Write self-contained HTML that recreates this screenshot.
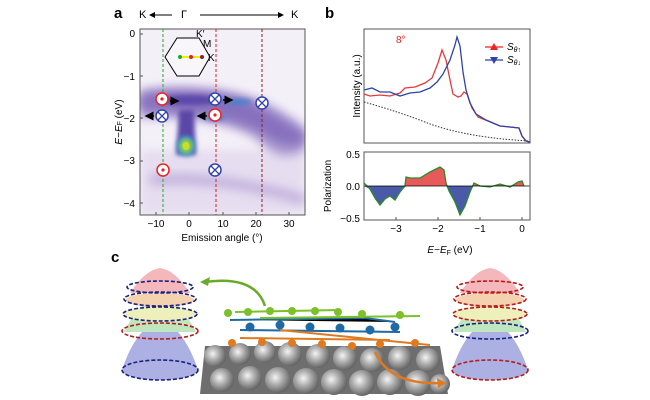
<!DOCTYPE html>
<html><head><style>
body{margin:0;background:#fff;}
svg{display:block;font-family:"Liberation Sans",sans-serif;}
</style></head><body>
<svg width="650" height="400" viewBox="0 0 650 400" xmlns="http://www.w3.org/2000/svg">
<defs>
<filter id="b4" x="-50%" y="-50%" width="200%" height="200%"><feGaussianBlur stdDeviation="5"/></filter>
<filter id="b2" x="-50%" y="-50%" width="200%" height="200%"><feGaussianBlur stdDeviation="2.5"/></filter>
<radialGradient id="ball" cx="0.4" cy="0.4" r="0.6"><stop offset="0" stop-color="#f4f4f4"/><stop offset="0.5" stop-color="#aaa"/><stop offset="1" stop-color="#666"/></radialGradient>
<clipPath id="pa"><rect x="140" y="29" width="165" height="186"/></clipPath>
<clipPath id="up"><rect x="364" y="150" width="166" height="36"/></clipPath>
<clipPath id="dn"><rect x="364" y="186" width="166" height="36"/></clipPath>
<marker id="ah" markerWidth="6" markerHeight="6" refX="5" refY="3" orient="auto"><path d="M0,0L6,3L0,6z" fill="#000"/></marker>
</defs>
<text x="114" y="18" font-size="15" font-weight="bold">a</text>
<text x="325" y="18" font-size="15" font-weight="bold">b</text>
<text x="111" y="262" font-size="15" font-weight="bold">c</text>

<text x="139" y="18" font-size="11">K</text>
<line x1="172" y1="15" x2="150" y2="15" stroke="#000" marker-end="url(#ah)"/>
<text x="181" y="18" font-size="11">Γ</text>
<line x1="200" y1="15" x2="283" y2="15" stroke="#000" marker-end="url(#ah)"/>
<text x="291" y="18" font-size="11">K</text>

<g clip-path="url(#pa)">
<rect x="140" y="29" width="165" height="186" fill="#f4f0f8"/>
<rect x="140" y="150" width="165" height="65" fill="#e6ddf0" filter="url(#b4)"/>
<path d="M140,90 Q200,80 260,100 Q290,115 305,128 L305,150 Q280,165 258,140 Q220,115 140,118 Z" fill="#a796cf" filter="url(#b4)"/>
<path d="M140,95 Q200,88 245,100 Q275,115 305,135 L305,142 Q285,150 262,132 Q220,110 140,110 Z" fill="#8670bd" filter="url(#b4)"/>
<path d="M150,180 Q220,175 305,200" stroke="#c0b0dc" stroke-width="10" fill="none" filter="url(#b4)"/>
<ellipse cx="190" cy="100" rx="30" ry="5" fill="#5a48a8" filter="url(#b2)"/>
<ellipse cx="238" cy="102" rx="14" ry="3" fill="#4a80c8" filter="url(#b2)"/>
<path d="M179,110 L194,110 L196,155 L176,155 Z" fill="#5a46a8" filter="url(#b2)"/>
<ellipse cx="186" cy="146" rx="9" ry="10" fill="#3aa0d0" filter="url(#b2)"/>
<ellipse cx="186" cy="146" rx="6" ry="7" fill="#9ad040" filter="url(#b2)"/>
<ellipse cx="186" cy="146" rx="3.5" ry="4" fill="#c8e020"/>
<ellipse cx="215" cy="118" rx="10" ry="3" fill="#4a7ec8" filter="url(#b2)"/>
</g>
<rect x="140" y="29" width="165" height="186" fill="none" stroke="#555" stroke-width="1"/>
<line x1="163" y1="29" x2="163" y2="215" stroke="#2a2" stroke-dasharray="3,2"/>
<line x1="216" y1="29" x2="216" y2="215" stroke="#d22" stroke-dasharray="3,2"/>
<line x1="262" y1="29" x2="262" y2="215" stroke="#822" stroke-dasharray="3,2"/>
<polygon points="165,57 177,38 199,38 210,57 199,76 177,76" fill="#fff" fill-opacity="0.4" stroke="#000"/>
<line x1="180" y1="57" x2="204" y2="57" stroke="#ee0" stroke-width="2"/>
<circle cx="180" cy="57" r="2" fill="#2a2"/><circle cx="191" cy="57" r="2" fill="#d22"/><circle cx="202" cy="57" r="2" fill="#822"/>
<text x="196" y="37" font-size="10">K′</text>
<text x="203" y="47" font-size="10">M</text>
<text x="208" y="61" font-size="10">K</text>
<g stroke-width="1.5">
<g fill="#fff" stroke="#e22"><circle cx="162" cy="99" r="6"/><circle cx="215" cy="115" r="6"/><circle cx="163" cy="170" r="6"/></g>
<g fill="#e22"><circle cx="162" cy="99" r="1.6"/><circle cx="215" cy="115" r="1.6"/><circle cx="163" cy="170" r="1.6"/></g>
<g fill="#fff" stroke="#34a"><circle cx="162" cy="116" r="6"/><circle cx="215" cy="99" r="6"/><circle cx="262" cy="103" r="6"/><circle cx="215" cy="170" r="6"/></g>
<g stroke="#34a" stroke-width="1.3">
<path d="M158,112l8,8M166,112l-8,8"/><path d="M211,95l8,8M219,95l-8,8"/><path d="M258,99l8,8M266,99l-8,8"/><path d="M211,166l8,8M219,166l-8,8"/>
</g>
</g>
<g stroke="#000" stroke-width="1.5">
<line x1="170" y1="101" x2="178" y2="101" marker-end="url(#ah)"/>
<line x1="223" y1="100" x2="232" y2="100" marker-end="url(#ah)"/>
<line x1="154" y1="116" x2="146" y2="116" marker-end="url(#ah)"/>
<line x1="207" y1="116" x2="198" y2="116" marker-end="url(#ah)"/>
</g>
<g font-size="10" text-anchor="end">
<text x="135" y="37">0</text><text x="135" y="80">−1</text><text x="135" y="122">−2</text><text x="135" y="164">−3</text><text x="135" y="207">−4</text>
</g>
<g stroke="#555"><line x1="140" y1="34" x2="143" y2="34"/><line x1="140" y1="76" x2="143" y2="76"/><line x1="140" y1="118" x2="143" y2="118"/><line x1="140" y1="161" x2="143" y2="161"/><line x1="140" y1="203" x2="143" y2="203"/>
<line x1="156" y1="215" x2="156" y2="212"/><line x1="189" y1="215" x2="189" y2="212"/><line x1="223" y1="215" x2="223" y2="212"/><line x1="256" y1="215" x2="256" y2="212"/><line x1="289" y1="215" x2="289" y2="212"/></g>
<g font-size="10" text-anchor="middle">
<text x="156" y="227">−10</text><text x="189" y="227">0</text><text x="223" y="227">10</text><text x="256" y="227">20</text><text x="289" y="227">30</text>
<text x="222" y="241">Emission angle (°)</text>
</g>
<text transform="translate(122,122) rotate(-90)" font-size="10" text-anchor="middle"><tspan font-style="italic">E</tspan>−<tspan font-style="italic">E</tspan><tspan font-size="7">F</tspan> (eV)</text>

<rect x="364" y="29" width="166" height="114" fill="none" stroke="#555"/>
<text x="396" y="43" font-size="10" fill="#e22">8°</text>
<path d="M364,102 Q400,112 430,124 Q470,138 530,141" fill="none" stroke="#333" stroke-dasharray="1.5,1.5"/>
<polyline fill="none" stroke="#e23a3a" stroke-width="1.3" points="364,94 370,96 380,95 390,96 400,93 405,88 415,87 425,83 432,78 438,63 442,50 446,60 450,80 453,94 458,97 461,96 464,92 467,94 472,108 478,117 488,121 500,126 510,127 519,128 522,136 526,141 530,142"/>
<polyline fill="none" stroke="#2f43a8" stroke-width="1.3" points="364,90 372,88 380,92 390,92 400,96 410,93 420,92 430,88 437,82 443,74 450,60 455,45 457,37 460,46 463,72 466,90 470,103 476,114 486,120 500,126 510,127 519,128 522,136 526,141 530,142"/>
<line x1="485" y1="47" x2="503" y2="47" stroke="#e22" stroke-width="1.3"/><path d="M494,43l4,7h-8z" fill="#e22"/>
<text x="507" y="50" font-size="10" font-style="italic">S<tspan font-size="7" dy="2">θ↑</tspan></text>
<line x1="485" y1="60" x2="503" y2="60" stroke="#2f43a8" stroke-width="1.3"/><path d="M494,64l4,-7h-8z" fill="#2f43a8"/>
<text x="507" y="63" font-size="10" font-style="italic">S<tspan font-size="7" dy="2">θ↓</tspan></text>
<text transform="translate(360,86) rotate(-90)" font-size="10" text-anchor="middle">Intensity (a.u.)</text>

<g clip-path="url(#up)"><polygon fill="#e85a5a" points="364,186 370,189 375,198 380,205 385,199 390,196 395,200 400,192 405,186 406,177 410,178 420,178 430,172 440,167 444,170 446,183 449,191 455,202 460,215 465,206 470,192 474,183 480,186 490,187 500,184 510,187 518,182 522,181 524,186"/></g>
<g clip-path="url(#dn)"><polygon fill="#4a5aa8" points="364,186 370,189 375,198 380,205 385,199 390,196 395,200 400,192 405,186 406,177 410,178 420,178 430,172 440,167 444,170 446,183 449,191 455,202 460,215 465,206 470,192 474,183 480,186 490,187 500,184 510,187 518,182 522,181 524,186"/></g>
<polyline fill="none" stroke="#2a8a2a" stroke-width="1.3" points="364,183 370,189 375,198 380,205 385,199 390,196 395,200 400,192 405,186 406,177 410,178 420,178 430,172 440,167 444,170 446,183 449,191 455,202 460,215 465,206 470,192 474,183 480,186 490,187 500,184 510,187 518,182 522,181 524,186"/>
<line x1="364" y1="186" x2="530" y2="186" stroke="#000" stroke-width="0.8"/>
<rect x="364" y="152" width="166" height="68" fill="none" stroke="#555"/>
<g font-size="10" text-anchor="end"><text x="360" y="158">0.5</text><text x="360" y="190">0.0</text><text x="360" y="222">−0.5</text></g>
<text transform="translate(331,186) rotate(-90)" font-size="10" text-anchor="middle">Polarization</text>
<g stroke="#555"><line x1="396" y1="220" x2="396" y2="217"/><line x1="438" y1="220" x2="438" y2="217"/><line x1="480" y1="220" x2="480" y2="217"/><line x1="522" y1="220" x2="522" y2="217"/></g>
<g font-size="10" text-anchor="middle"><text x="396" y="232">−3</text><text x="438" y="232">−2</text><text x="480" y="232">−1</text><text x="522" y="232">0</text>
<text x="450" y="253"><tspan font-style="italic">E</tspan>−<tspan font-style="italic">E</tspan><tspan font-size="7" dy="2">F</tspan><tspan dy="-2"> (eV)</tspan></text></g>

<g opacity="0.7">
<path d="M122,370 Q135,330 160,318 Q185,330 198,370 Z" fill="#8a90d8"/>
<ellipse cx="160" cy="370" rx="38" ry="10" fill="#8a90d8"/>
<path d="M124,332 Q140,300 160,295 Q180,300 196,332 Z" fill="#a5dca0"/>
<ellipse cx="160" cy="314" rx="36" ry="8" fill="#e8eaa0"/>
<ellipse cx="160" cy="300" rx="34" ry="7" fill="#f0c090"/>
<path d="M130,293 Q145,270 160,268 Q175,270 190,293 Z" fill="#f09aa0"/>
</g>
<g fill="none" stroke-width="1.6" stroke-dasharray="4,2">
<ellipse cx="160" cy="370" rx="38" ry="10" stroke="#1a237e"/>
<ellipse cx="160" cy="331" rx="38" ry="8" stroke="#b71c1c"/>
<ellipse cx="160" cy="314" rx="37" ry="7" stroke="#1a237e"/>
<ellipse cx="160" cy="299" rx="36" ry="7" stroke="#1a237e"/>
<ellipse cx="160" cy="287" rx="33" ry="6" stroke="#1a237e"/>
</g>
<g opacity="0.7">
<path d="M452,370 Q465,330 490,318 Q515,330 528,370 Z" fill="#8a90d8"/>
<ellipse cx="490" cy="370" rx="38" ry="10" fill="#8a90d8"/>
<path d="M454,332 Q470,300 490,295 Q510,300 526,332 Z" fill="#a5dca0"/>
<ellipse cx="490" cy="314" rx="36" ry="8" fill="#e8eaa0"/>
<ellipse cx="490" cy="300" rx="34" ry="7" fill="#f0c090"/>
<path d="M460,293 Q475,270 490,268 Q505,270 520,293 Z" fill="#f09aa0"/>
</g>
<g fill="none" stroke-width="1.6" stroke-dasharray="4,2">
<ellipse cx="490" cy="370" rx="38" ry="10" stroke="#b71c1c"/>
<ellipse cx="490" cy="331" rx="38" ry="8" stroke="#1a237e"/>
<ellipse cx="490" cy="314" rx="37" ry="7" stroke="#b71c1c"/>
<ellipse cx="490" cy="299" rx="36" ry="7" stroke="#b71c1c"/>
<ellipse cx="490" cy="287" rx="33" ry="6" stroke="#b71c1c"/>
</g>
<polygon points="205,346 440,346 448,394 200,394" fill="#6e6e6e"/>
<g fill="url(#ball)">
<circle cx="215" cy="356" r="11"/><circle cx="240" cy="354" r="11"/><circle cx="265" cy="352" r="11"/><circle cx="290" cy="354" r="12"/><circle cx="318" cy="356" r="12"/><circle cx="345" cy="358" r="12"/><circle cx="372" cy="360" r="12"/><circle cx="400" cy="358" r="12"/><circle cx="428" cy="360" r="12"/>
<circle cx="222" cy="380" r="12"/><circle cx="250" cy="378" r="12"/><circle cx="278" cy="380" r="13"/><circle cx="306" cy="381" r="13"/><circle cx="334" cy="382" r="13"/><circle cx="362" cy="383" r="13"/><circle cx="390" cy="382" r="13"/><circle cx="418" cy="383" r="13"/><circle cx="440" cy="384" r="10"/>
</g>
<g stroke-width="2">
<path d="M230,320 L365,318 L395,322 M240,330 L400,332" stroke="#1f6aa5"/>
<path d="M235,312 L340,310 M260,318 L420,316" stroke="#7cc02a"/>
<path d="M240,338 L390,340 M280,330 L430,345" stroke="#e07a20"/>
</g>
<g fill="#7cc02a"><circle cx="228" cy="313" r="4"/><circle cx="248" cy="312" r="4"/><circle cx="270" cy="311" r="4"/><circle cx="292" cy="311" r="4"/><circle cx="315" cy="311" r="4"/><circle cx="338" cy="312" r="4"/><circle cx="362" cy="314" r="4"/><circle cx="400" cy="315" r="4"/></g>
<g fill="#1f6aa5"><circle cx="250" cy="327" r="4.5"/><circle cx="280" cy="325" r="4.5"/><circle cx="310" cy="327" r="4.5"/><circle cx="340" cy="328" r="4.5"/><circle cx="370" cy="330" r="4.5"/><circle cx="395" cy="327" r="4.5"/></g>
<g fill="#e07a20"><circle cx="232" cy="343" r="4"/><circle cx="262" cy="342" r="4"/><circle cx="292" cy="343" r="4"/><circle cx="322" cy="344" r="4"/><circle cx="352" cy="346" r="4"/><circle cx="380" cy="344" r="4"/><circle cx="415" cy="343" r="4"/></g>
<path d="M265,306 Q255,275 205,282" fill="none" stroke="#6aaa2a" stroke-width="2.5"/>
<path d="M200,282 l10,-5 l-2,9z" fill="#6aaa2a"/>
<path d="M375,352 Q390,385 440,383" fill="none" stroke="#e07a20" stroke-width="2.5"/>
<path d="M446,383 l-9,-5 l1,10z" fill="#e07a20"/>
</svg>
</body></html>
